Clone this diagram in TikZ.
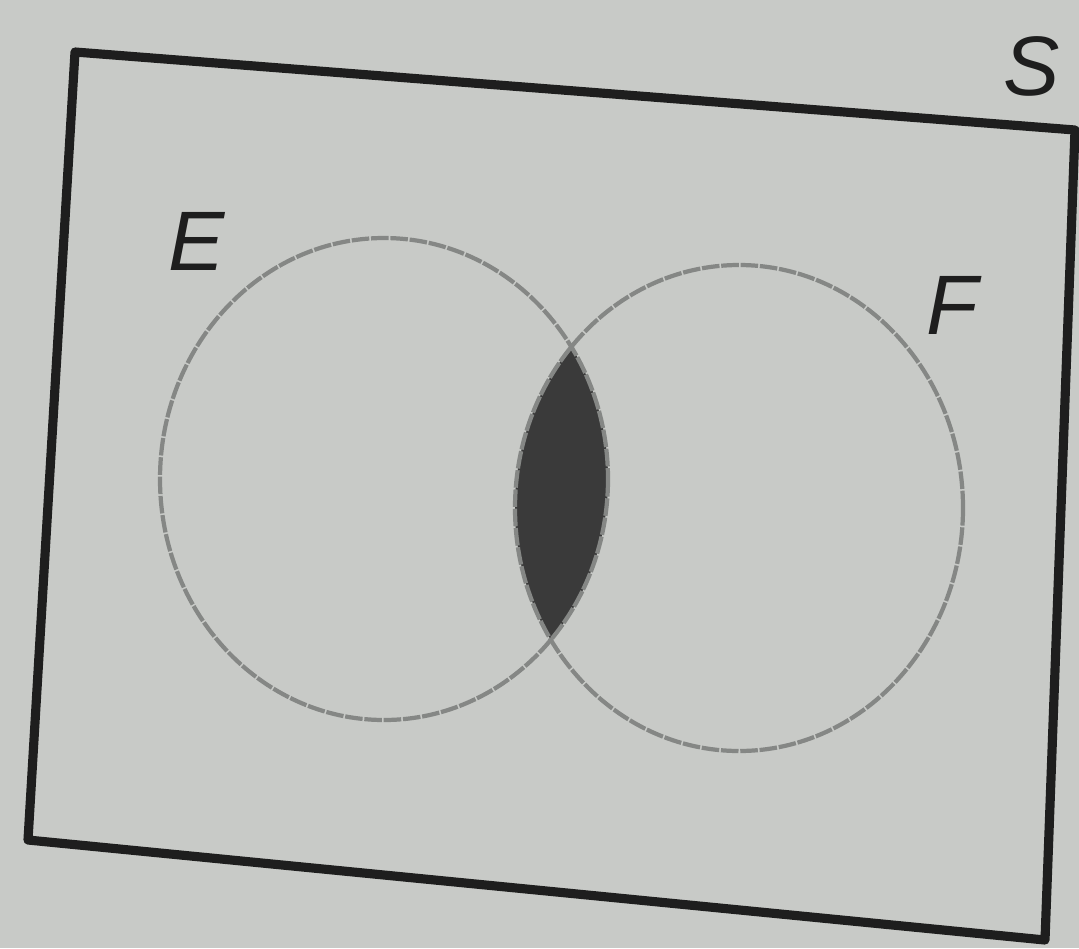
\documentclass[tikz,border=0pt]{standalone}
\usepackage{fontspec}
\setsansfont{Liberation Sans}
\usepackage{tikz}
\usetikzlibrary{positioning}
\definecolor{paper}{HTML}{C8CAC7}
\definecolor{ink}{HTML}{1E1E1E}
\definecolor{pencil}{HTML}{858785}
\definecolor{lensgray}{HTML}{3A3A3A}
\tikzset{
  setlabel/.style={font=\fontsize{24}{28}\selectfont\sffamily\itshape, text=ink, inner sep=0pt},
  setline/.style={draw=pencil, line width=1.2pt, dash pattern=on 5pt off 0.5pt}
}

\begin{document}
\begin{tikzpicture}[x=0.01cm, y=-0.01cm]
  \useasboundingbox[fill=paper] (0,0) rectangle (1079,948);
  % sample space
  \draw[ink, line width=2.6pt, line join=round]
    (75,52) -- (1075,130) -- (1045,940) -- (28,840) -- cycle;
  \node[setlabel] (labS) at (1032,66) {S};
  % centres of the two events
  \coordinate (cE) at (384,479);
  \coordinate (cF) at (739,508);
  % shaded intersection
  \begin{scope}
    \clip (cE) ellipse [x radius=224, y radius=241];
    \fill[lensgray] (cF) ellipse [x radius=224, y radius=243];
  \end{scope}
  \draw[setline] (cE) ellipse [x radius=224, y radius=241];
  \draw[setline] (cF) ellipse [x radius=224, y radius=243];
  \node[setlabel] (labE) at (197,241) {E};
  \node[setlabel] (labF) at (952,305) {F};
\end{tikzpicture}
\end{document}
